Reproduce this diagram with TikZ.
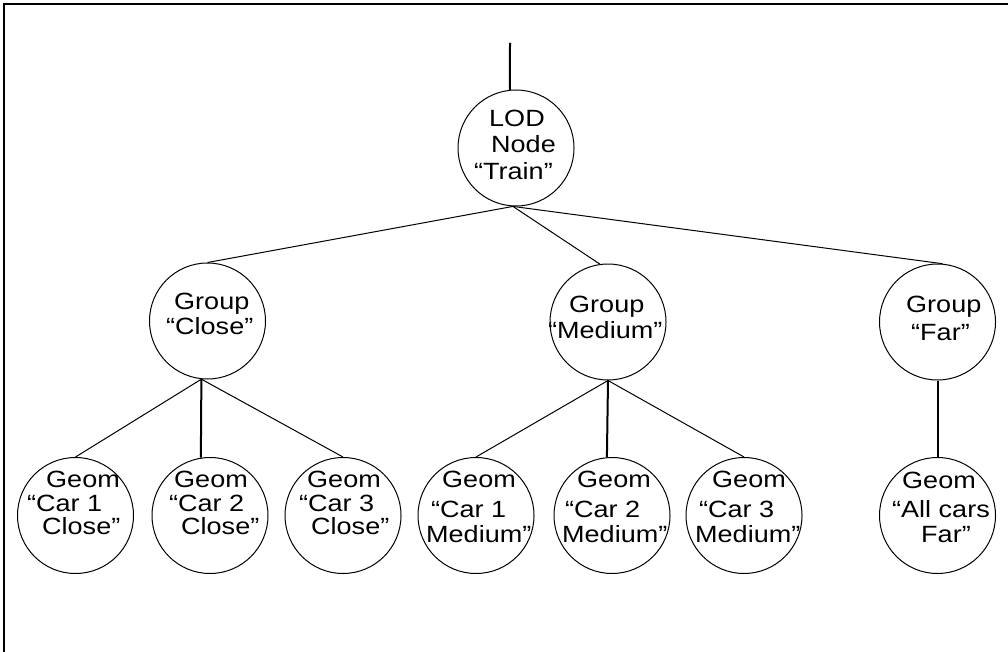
\documentclass[tikz,border=0pt]{standalone}
\usepackage{fontspec}
\setmainfont{Liberation Sans}[FakeStretch=1.15]
\begin{document}
\begin{tikzpicture}[x=1pt,y=-1pt,
  circ/.style={draw, circle, minimum size=116pt, inner sep=0pt, line width=1pt},
  lbl/.style={anchor=base west, inner sep=0pt, font=\fontsize{23.5}{26}\selectfont},
  edge/.style={line width=1pt},
  vedge/.style={line width=2pt}]
\useasboundingbox (0,0) rectangle (1008,652);

% frame
\draw[line width=2pt] (4,652) -- (4,4) -- (1008,4);

% tree nodes
\node[circ] (lod)    at (516,148)     {};
\node[circ] (close)  at (207.5,321)   {};
\node[circ] (medium) at (608,322)     {};
\node[circ] (far)    at (937.5,322)   {};
\node[circ] (c1)     at (75.5,515.5)  {};
\node[circ] (c2)     at (210,515.5)   {};
\node[circ] (c3)     at (343,515.5)   {};
\node[circ] (m1)     at (476,515.5)   {};
\node[circ] (m2)     at (612,515.5)   {};
\node[circ] (m3)     at (744,515.5)   {};
\node[circ] (all)    at (937.5,515.5) {};

% labels
\node[lbl] (lodA) at (489,126.7) {LOD};
\node[lbl] (lodB) at (491,153)   {Node};
\node[lbl] (lodC) at (474,180)   {“Train”};

\node[lbl] (closeA) at (174,309) {Group};
\node[lbl] (closeB) at (166,334) {“Close”};

\node[lbl] (medA) at (569,312) {Group};
\node[lbl] (medB) at (548,338) {“Medium”};

\node[lbl] (farA) at (906,312) {Group};
\node[lbl] (farB) at (911,340) {“Far”};

\node[lbl] (c1A) at (46,487) {Geom};
\node[lbl] (c1B) at (27,511) {“Car 1};
\node[lbl] (c1C) at (42,534) {Close”};

\node[lbl] (c2A) at (174,487) {Geom};
\node[lbl] (c2B) at (169,511) {“Car 2};
\node[lbl] (c2C) at (181,534) {Close”};

\node[lbl] (c3A) at (307,487) {Geom};
\node[lbl] (c3B) at (299,511) {“Car 3};
\node[lbl] (c3C) at (311,534) {Close”};

\node[lbl] (m1A) at (442,487) {Geom};
\node[lbl] (m1B) at (431,517) {“Car 1};
\node[lbl] (m1C) at (426,542) {Medium”};

\node[lbl] (m2A) at (577,487) {Geom};
\node[lbl] (m2B) at (565,517) {“Car 2};
\node[lbl] (m2C) at (562,542) {Medium”};

\node[lbl] (m3A) at (712,487) {Geom};
\node[lbl] (m3B) at (699,517) {“Car 3};
\node[lbl] (m3C) at (695,542) {Medium”};

\node[lbl] (allA) at (902,488) {Geom};
\node[lbl] (allB) at (892,517) {“All cars};
\node[lbl] (allC) at (921,542) {Far”};

% connectors
\coordinate (topend) at (510,43);
\draw[vedge] (topend) -- (lod.96);
\draw[edge] (lod.267) -- (close.north);
\draw[edge] (lod.267) -- (medium.98);
\draw[edge] (lod.267) -- (far.85);
\draw[edge]  (close.264) -- (c1.north);
\draw[vedge] (close.264) -- (c2.99);
\draw[edge]  (close.264) -- (c3.north);
\draw[edge]  (medium.south) -- (m1.north);
\draw[vedge] (medium.south) -- (m2.95);
\draw[edge]  (medium.south) -- (m3.north);
\draw[vedge] (far.south) -- (all.north);
\end{tikzpicture}
\end{document}
